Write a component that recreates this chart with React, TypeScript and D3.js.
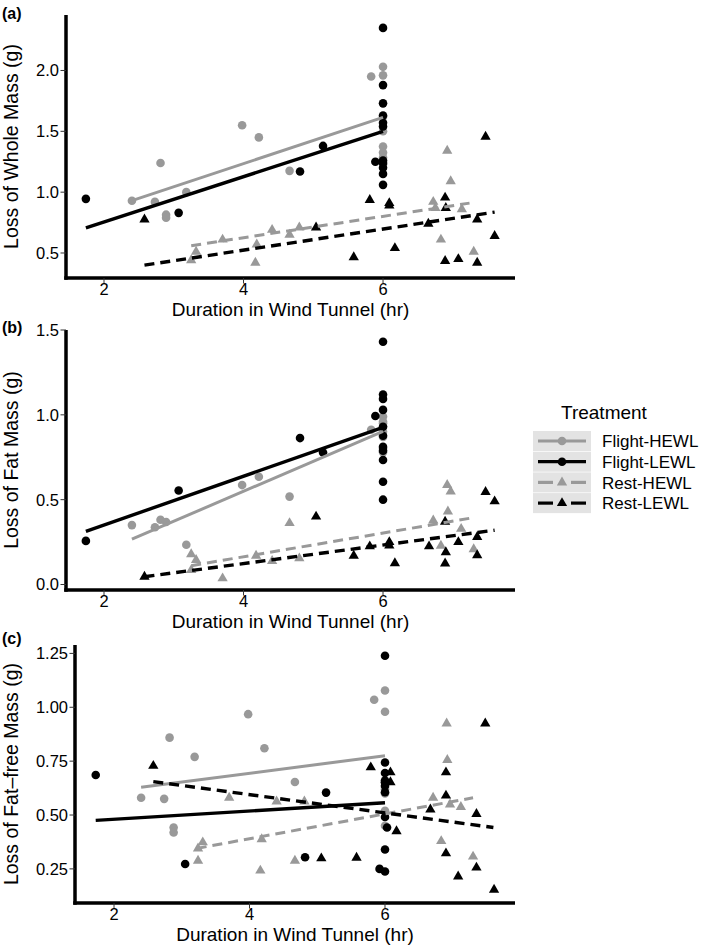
import React from 'react';
import * as d3 from 'd3';

type Pt = [number, number];

const FONT = '"Liberation Sans", Arial, Helvetica, sans-serif';
const GRAY = '#999999';
const BLACK = '#000000';

// ---------- Treatments ----------
const treatments = ['Flight-HEWL', 'Flight-LEWL', 'Rest-HEWL', 'Rest-LEWL'];
const treatmentColor = [GRAY, BLACK, GRAY, BLACK];
const treatmentShape = ['circle', 'circle', 'triangle', 'triangle'];
const treatmentDashed = [false, false, true, true];

// ---------- Panel (a): Loss of Whole Mass ----------
const wholeFlightHEWL: Pt[] = [[2.40, 0.93], [2.73, 0.92], [2.81, 1.24], [2.89, 0.815], [2.89, 0.79], [3.18, 1.00], [3.98, 1.55], [4.22, 1.45], [4.66, 1.175], [5.83, 1.95], [6.0, 2.03], [6.0, 1.96], [6.0, 1.62], [6.0, 1.50], [6.0, 1.375], [6.0, 1.325], [6.0, 1.285], [6.0, 1.23]];
const wholeFlightLEWL: Pt[] = [[1.74, 0.945], [3.07, 0.83], [4.81, 1.17], [5.14, 1.38], [5.89, 1.25], [6.0, 2.35], [6.0, 1.88], [6.0, 1.73], [6.0, 1.63], [6.0, 1.57], [6.0, 1.54], [6.0, 1.26], [6.0, 1.24], [6.0, 1.20], [6.0, 1.15], [6.0, 1.06]];
const wholeRestHEWL: Pt[] = [[3.25, 0.44], [3.32, 0.51], [3.70, 0.61], [4.17, 0.42], [4.19, 0.57], [4.41, 0.69], [4.66, 0.65], [4.80, 0.71], [6.72, 0.92], [6.75, 0.87], [6.83, 0.61], [6.92, 1.34], [6.97, 1.09], [7.13, 0.86], [7.30, 0.51]];
const wholeRestLEWL: Pt[] = [[2.58, 0.775], [5.04, 0.71], [5.58, 0.465], [5.81, 0.935], [6.09, 0.91], [6.09, 0.89], [6.17, 0.54], [6.65, 0.74], [6.89, 0.955], [6.90, 0.87], [6.89, 0.435], [7.08, 0.45], [7.35, 0.775], [7.35, 0.42], [7.47, 1.455], [7.60, 0.64]];
const wholeFitFlightHEWL: Pt[] = [[2.40, 0.93], [6.0, 1.615]];
const wholeFitFlightLEWL: Pt[] = [[1.74, 0.706], [6.0, 1.50]];
const wholeFitRestHEWL: Pt[] = [[3.25, 0.56], [7.24, 0.91]];
const wholeFitRestLEWL: Pt[] = [[2.58, 0.40], [7.60, 0.836]];

// ---------- Panel (b): Loss of Fat Mass ----------
const fatFlightHEWL: Pt[] = [[2.40, 0.35], [2.73, 0.337], [2.81, 0.382], [2.89, 0.368], [3.18, 0.234], [3.98, 0.586], [4.22, 0.635], [4.66, 0.518], [5.83, 0.912], [6.0, 0.99], [6.0, 0.96], [6.0, 0.93], [6.0, 0.90], [6.0, 0.87], [6.0, 0.80], [6.0, 0.78], [6.0, 0.95]];
const fatFlightLEWL: Pt[] = [[1.74, 0.257], [3.07, 0.554], [4.81, 0.863], [5.14, 0.778], [5.89, 0.993], [6.0, 1.431], [6.0, 1.12], [6.0, 1.094], [6.0, 1.029], [6.0, 0.93], [6.0, 0.877], [6.0, 0.811], [6.0, 0.788], [6.0, 0.734], [6.0, 0.606], [6.0, 0.50]];
const fatRestHEWL: Pt[] = [[3.25, 0.178], [3.25, 0.085], [3.32, 0.144], [3.70, 0.036], [4.18, 0.17], [4.41, 0.139], [4.66, 0.362], [4.80, 0.154], [6.72, 0.377], [6.83, 0.228], [6.92, 0.587], [6.97, 0.548], [6.93, 0.43], [7.12, 0.328], [7.30, 0.208]];
const fatRestLEWL: Pt[] = [[2.58, 0.046], [5.04, 0.40], [5.58, 0.17], [5.81, 0.225], [6.09, 0.25], [6.09, 0.23], [6.17, 0.125], [6.66, 0.225], [6.89, 0.37], [6.90, 0.19], [6.89, 0.124], [7.08, 0.25], [7.35, 0.28], [7.35, 0.172], [7.47, 0.545], [7.60, 0.49]];
const fatFitFlightHEWL: Pt[] = [[2.40, 0.267], [6.0, 0.902]];
const fatFitFlightLEWL: Pt[] = [[1.74, 0.313], [6.0, 0.926]];
const fatFitRestHEWL: Pt[] = [[3.25, 0.111], [7.24, 0.39]];
const fatFitRestLEWL: Pt[] = [[2.58, 0.046], [7.60, 0.32]];

// ---------- Panel (c): Loss of Fat-free Mass ----------
const leanFlightHEWL: Pt[] = [[2.40, 0.58], [2.74, 0.575], [2.82, 0.859], [2.88, 0.442], [2.88, 0.419], [3.19, 0.77], [3.98, 0.968], [4.22, 0.81], [4.67, 0.653], [5.84, 1.035], [6.0, 1.078], [6.0, 0.979], [6.0, 0.62], [6.0, 0.60], [6.0, 0.52], [6.0, 0.45], [6.0, 0.65], [6.0, 0.63]];
const leanFlightLEWL: Pt[] = [[1.73, 0.686], [3.05, 0.273], [4.82, 0.304], [5.13, 0.604], [5.92, 0.25], [6.0, 1.239], [6.0, 0.744], [6.0, 0.695], [6.0, 0.652], [6.0, 0.636], [6.0, 0.606], [6.0, 0.491], [6.03, 0.442], [6.0, 0.34], [6.0, 0.238], [6.0, 0.66]];
const leanRestHEWL: Pt[] = [[3.24, 0.288], [3.24, 0.345], [3.31, 0.373], [3.70, 0.58], [4.16, 0.242], [4.18, 0.388], [4.40, 0.563], [4.67, 0.288], [4.81, 0.563], [6.71, 0.58], [6.83, 0.379], [6.91, 0.925], [6.92, 0.755], [6.96, 0.549], [7.12, 0.537], [7.30, 0.307]];
const leanRestLEWL: Pt[] = [[2.58, 0.728], [5.06, 0.299], [5.58, 0.302], [5.79, 0.721], [6.08, 0.698], [6.08, 0.652], [6.17, 0.425], [6.67, 0.526], [6.90, 0.698], [6.90, 0.59], [6.90, 0.322], [7.08, 0.215], [7.35, 0.505], [7.35, 0.256], [7.48, 0.925], [7.61, 0.153]];
const leanFitFlightHEWL: Pt[] = [[2.40, 0.629], [6.0, 0.775]];
const leanFitFlightLEWL: Pt[] = [[1.73, 0.475], [6.0, 0.557]];
const leanFitRestHEWL: Pt[] = [[3.22, 0.345], [7.30, 0.58]];
const leanFitRestLEWL: Pt[] = [[2.58, 0.655], [7.60, 0.442]];

// ---------- Axis ticks / labels ----------
const xTicks = [2, 4, 6];
const wholeYTicks = [0.5, 1.0, 1.5, 2.0];
const fatYTicks = [0.0, 0.5, 1.0, 1.5];
const leanYTicks = [0.25, 0.5, 0.75, 1.0, 1.25];
const xTitle = 'Duration in Wind Tunnel (hr)';
const panelTags = ['(a)', '(b)', '(c)'];
const yTitles = ['Loss of Whole Mass (g)', 'Loss of Fat Mass (g)', 'Loss of Fat\u2013free Mass (g)'];
const legendTitle = 'Treatment';

interface PanelCfg {
  tag: string;
  yTitle: string;
  points: Pt[][];
  fits: Pt[][];
  yTicks: number[];
  yFmt: string;
  xDomain: [number, number];
  yDomain: [number, number];
  left: number; right: number; top: number; bottom: number;
  tagY: number;
}

const panels: PanelCfg[] = [
  {
    tag: panelTags[0], yTitle: yTitles[0],
    points: [wholeFlightHEWL, wholeFlightLEWL, wholeRestHEWL, wholeRestLEWL],
    fits: [wholeFitFlightHEWL, wholeFitFlightLEWL, wholeFitRestHEWL, wholeFitRestLEWL],
    yTicks: wholeYTicks, yFmt: '.1f',
    xDomain: [1.455, 7.892], yDomain: [0.2945, 2.456],
    left: 66, right: 515, top: 15, bottom: 278, tagY: 19,
  },
  {
    tag: panelTags[1], yTitle: yTitles[1],
    points: [fatFlightHEWL, fatFlightLEWL, fatRestHEWL, fatRestLEWL],
    fits: [fatFitFlightHEWL, fatFitFlightLEWL, fatFitRestHEWL, fatFitRestLEWL],
    yTicks: fatYTicks, yFmt: '.1f',
    xDomain: [1.455, 7.892], yDomain: [-0.0324, 1.5],
    left: 66, right: 515, top: 330, bottom: 590, tagY: 333,
  },
  {
    tag: panelTags[2], yTitle: yTitles[2],
    points: [leanFlightHEWL, leanFlightLEWL, leanRestHEWL, leanRestLEWL],
    fits: [leanFitFlightHEWL, leanFitFlightLEWL, leanFitRestHEWL, leanFitRestLEWL],
    yTicks: leanYTicks, yFmt: '.2f',
    xDomain: [1.424, 7.919], yDomain: [0.0917, 1.289],
    left: 75, right: 515, top: 645, bottom: 903, tagY: 644,
  },
];

const circleR = 4.3;
const triPath = d3.symbol(d3.symbolTriangle, 46)() as string;

function Marker({ shape, cx, cy, color }: { shape: string; cx: number; cy: number; color: string }) {
  if (shape === 'circle') return <circle cx={cx} cy={cy} r={circleR} fill={color} />;
  return <path d={triPath} transform={`translate(${cx},${cy})`} fill={color} />;
}

function Panel({ cfg }: { cfg: PanelCfg }) {
  const x = d3.scaleLinear().domain(cfg.xDomain).range([cfg.left, cfg.right]);
  const y = d3.scaleLinear().domain(cfg.yDomain).range([cfg.bottom, cfg.top]);
  const fmt = d3.format(cfg.yFmt);
  const line = d3.line<Pt>().x(d => x(d[0])).y(d => y(d[1]));
  const midY = (cfg.top + cfg.bottom) / 2;
  return (
    <g>
      <text x={2} y={cfg.tagY} fontSize={16} fontWeight="bold" fontFamily={FONT}>{cfg.tag}</text>
      {cfg.points.map((series, gi) => (
        <g key={'p' + gi}>
          {series.map((d, i) => (
            <Marker key={i} shape={treatmentShape[gi]} cx={x(d[0])} cy={y(d[1])} color={treatmentColor[gi]} />
          ))}
        </g>
      ))}
      {cfg.fits.map((f, gi) => (
        <path key={'f' + gi} d={line(f) as string} fill="none" stroke={treatmentColor[gi]}
          strokeWidth={gi % 2 === 0 ? 3 : 3.4} strokeDasharray={treatmentDashed[gi] ? '10,6' : undefined} />
      ))}
      <line x1={cfg.left} x2={cfg.left} y1={cfg.top} y2={cfg.bottom + 1.75} stroke="#000" strokeWidth={3.5} />
      <line x1={cfg.left - 1.75} x2={cfg.right} y1={cfg.bottom} y2={cfg.bottom} stroke="#000" strokeWidth={3.5} />
      {cfg.yTicks.map(t => (
        <g key={'yt' + t}>
          <line x1={cfg.left - 5.5} x2={cfg.left} y1={y(t)} y2={y(t)} stroke="#333" strokeWidth={1} />
          <text x={cfg.left - 7} y={y(t)} dy="0.36em" textAnchor="end" fontSize={16.5} fontFamily={FONT} fill="#000">{fmt(t)}</text>
        </g>
      ))}
      {xTicks.map(t => (
        <g key={'xt' + t}>
          <line x1={x(t)} x2={x(t)} y1={cfg.bottom} y2={cfg.bottom + 5.5} stroke="#333" strokeWidth={1} />
          <text x={x(t)} y={cfg.bottom + 17} textAnchor="middle" fontSize={16.5} fontFamily={FONT} fill="#000">{t}</text>
        </g>
      ))}
      <text x={(cfg.left + cfg.right) / 2} y={cfg.bottom + 38} textAnchor="middle" fontSize={19} fontFamily={FONT} fill="#000">{xTitle}</text>
      <text transform={`translate(18,${midY}) rotate(-90)`} textAnchor="middle" fontSize={19.5} fontFamily={FONT} fill="#000">{cfg.yTitle}</text>
    </g>
  );
}

function Legend() {
  const kx = 533, kw = 58, kh = 20, ky0 = 431, gap = 0.7;
  const cx = kx + kw / 2;
  return (
    <g>
      <text x={561} y={419} fontSize={19} fontFamily={FONT} fill="#000">{legendTitle}</text>
      {treatments.map((t, i) => {
        const ky = ky0 + i * (kh + gap);
        const my = ky + kh / 2;
        return (
          <g key={t}>
            <rect x={kx} y={ky} width={kw} height={kh} fill="#e3e3e3" />
            {treatmentDashed[i] ? (
              <g>
                <line x1={kx + 5} x2={cx - 9} y1={my} y2={my} stroke={treatmentColor[i]} strokeWidth={3.2} />
                <line x1={cx + 9} x2={kx + kw - 5} y1={my} y2={my} stroke={treatmentColor[i]} strokeWidth={3.2} />
              </g>
            ) : (
              <line x1={kx + 5} x2={kx + kw - 5} y1={my} y2={my} stroke={treatmentColor[i]} strokeWidth={3.2} />
            )}
            <Marker shape={treatmentShape[i]} cx={cx} cy={my} color={treatmentColor[i]} />
            <text x={602} y={my} dy="0.36em" fontSize={17} fontFamily={FONT} fill="#000">{t}</text>
          </g>
        );
      })}
    </g>
  );
}

export default function App() {
  return (
    <div style={{ position: 'absolute', left: 0, top: 0, width: 709, height: 946, background: '#fff' }}>
      <svg width={709} height={946} viewBox="0 0 709 946" style={{ display: 'block' }}>
        <rect width={709} height={946} fill="#fff" />
        {panels.map(p => <Panel key={p.tag} cfg={p} />)}
        <Legend />
      </svg>
    </div>
  );
}
